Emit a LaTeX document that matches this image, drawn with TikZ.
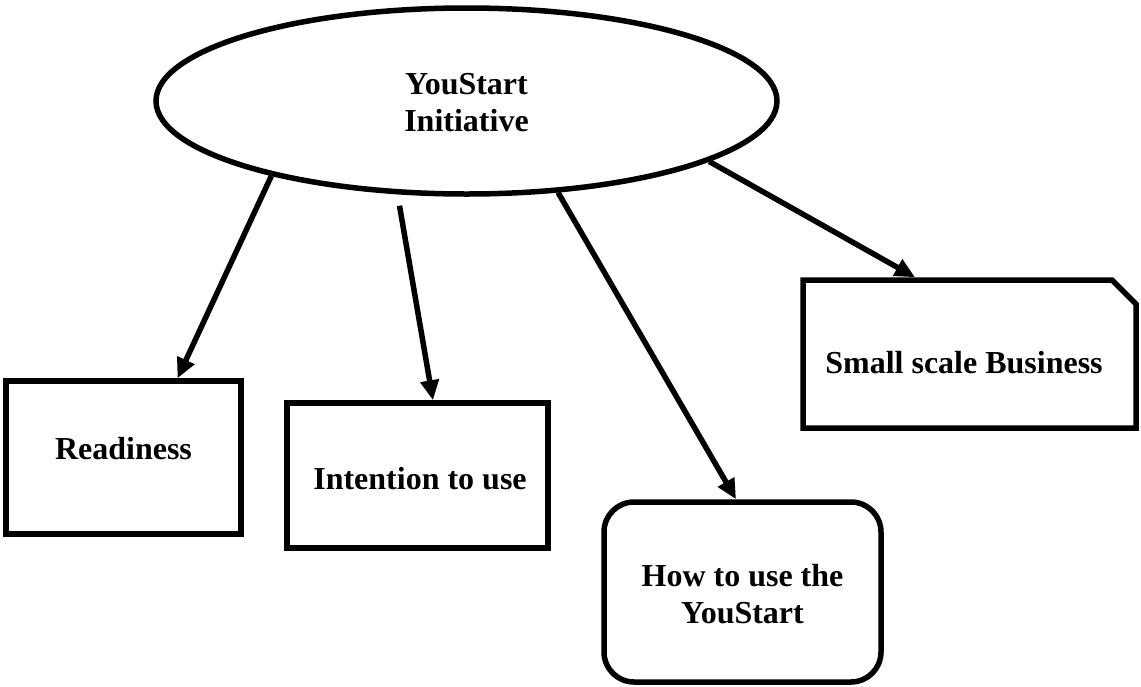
\documentclass[tikz,border=0pt]{standalone}
\usepackage{fontspec}
\setmainfont{Liberation Serif}
\usetikzlibrary{shapes.geometric,shapes.misc,arrows.meta,calc}
\begin{document}
\begin{tikzpicture}[x=1pt,y=-1pt,
  every node/.style={font=\bfseries\fontsize{32}{37}\selectfont, align=center, inner sep=0pt},
  boxstyle/.style={draw, line width=5.5pt, rectangle},
  conn/.style={line width=5.5pt, -{Triangle[length=20pt,width=18pt]}}]
\useasboundingbox (0,0) rectangle (1141,686);
\node[draw, line width=5.5pt, ellipse, minimum width=621pt, minimum height=186pt] (e) at (466.5,101) {};
\node (et) at (466.5,103) {YouStart\\Initiative};
\node[boxstyle, minimum width=235pt, minimum height=153pt] (r) at (123.5,457.5) {};
\node (rt) at (123.5,449) {Readiness};
\node[boxstyle, minimum width=261pt, minimum height=145pt] (i) at (417.5,475.5) {};
\node (it) at (420,478.5) {Intention to use};
\node[boxstyle, rounded corners=30pt, minimum width=277pt, minimum height=180pt] (h) at (742.5,592) {};
\node (ht) at (742.5,594.5) {How to use the\\YouStart};
\node[draw, line width=5.5pt, chamfered rectangle, chamfered rectangle corners=north east, chamfered rectangle xsep=12pt, chamfered rectangle ysep=12pt, minimum width=333pt, minimum height=148pt, text height=38pt, text depth=0pt, align=none] (s) at (969.5,354) {\hspace*{-11pt}Small scale Business};
\coordinate (i0) at ($(e.south)+(-67,9)$);
\draw[conn] (e.-159.4) -- ($(r.north)+(54,0)$);
\draw[conn] (i0) -- ($(i.north)+(15.5,0)$);
\draw[conn] (e.-45.6) -- ($(h.north)+(-6.5,0)$);
\draw[conn] (e.-14.8) -- ($(s.north)+(-54.5,0)$);
\end{tikzpicture}
\end{document}
